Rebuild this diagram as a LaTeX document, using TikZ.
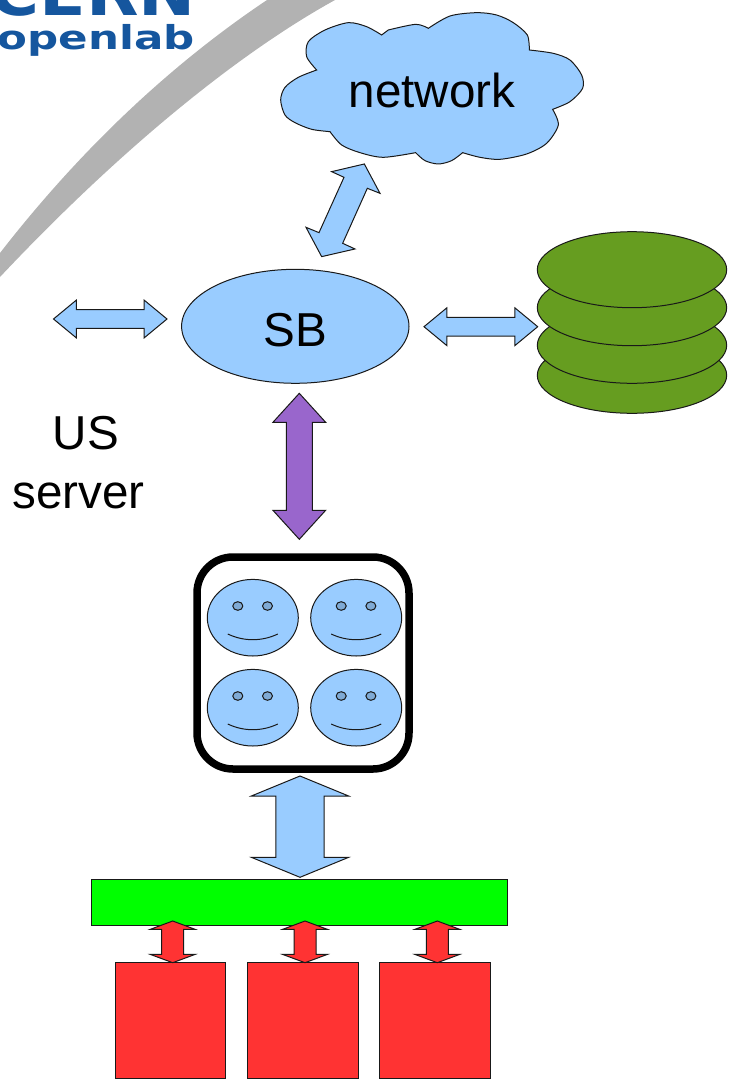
\documentclass[tikz,border=0pt]{standalone}
\usepackage{fontspec}
\setmainfont{Liberation Sans}
\newfontfamily\logofont{DejaVu Sans}[BoldFont={DejaVu Sans Bold}]
\usetikzlibrary{calc,shapes.geometric}
\definecolor{skyb}{HTML}{99CCFF}
\definecolor{redb}{HTML}{FF3333}
\definecolor{grnb}{HTML}{00FF00}
\definecolor{purb}{HTML}{9966CC}
\definecolor{dgrn}{HTML}{669D20}
\definecolor{swoosh}{HTML}{B2B2B2}
\definecolor{eyeb}{HTML}{7FAAD5}
\definecolor{logob}{HTML}{15569E}
\tikzset{
  line/.style={draw=black!90,line width=1pt,line join=miter},
  label/.style={font=\fontsize{47.6}{56}\selectfont,anchor=base,inner sep=0pt,text=black},
  ell/.style={shape=ellipse,line,inner sep=0pt},
  box/.style={shape=rectangle,line,inner sep=0pt},
  disk/.style={ell,fill=dgrn,minimum width=189.4pt,minimum height=76pt},
  faceshape/.style={ell,fill=skyb,minimum width=91pt,minimum height=76.6pt},
  eye/.style={ell,fill=eyeb,minimum width=10pt,minimum height=8.6pt},
  redbox/.style={box,fill=redb,minimum width=110.7pt,minimum height=115.6pt},
}
% block arrow between two named tips: tipA tipB headlen headhalf shafthalf fill
\newcommand{\blockarrow}[6]{%
  \coordinate (hA) at ($(#1)!#3pt!(#2)$);
  \coordinate (hB) at ($(#2)!#3pt!(#1)$);
  \draw[line,fill=#6] (#1)
    -- ($(hA)!#4pt!90:(#2)$) -- ($(hA)!#5pt!90:(#2)$)
    -- ($(hB)!#5pt!-90:(#1)$) -- ($(hB)!#4pt!-90:(#1)$)
    -- (#2)
    -- ($(hB)!#4pt!90:(#1)$) -- ($(hB)!#5pt!90:(#1)$)
    -- ($(hA)!#5pt!-90:(#2)$) -- ($(hA)!#4pt!-90:(#2)$)
    -- cycle;
}
\newcommand{\smileface}[3]{%
  \node[faceshape] (#1) at (#2,#3) {};
  \node[eye] (#1l) at ($(#1)+(-15,-11.7)$) {};
  \node[eye] (#1r) at ($(#1)+(14.7,-11.7)$) {};
  \coordinate (#1a) at ($(#1)+(-25,16.3)$);
  \coordinate (#1b) at ($(#1)+(25,16.3)$);
  \draw[line] (#1a) .. controls ($(#1a)+(16,7.6)$) and ($(#1b)+(-16,7.6)$) .. (#1b);
}
\begin{document}
\begin{tikzpicture}[x=1pt,y=-1pt]
\useasboundingbox (0,0) rectangle (731,1081);
\clip (0,0) rectangle (731,1081);
% swoosh
\fill[swoosh] (267,0) .. controls (170,65) and (80,150) .. (0,253)
  -- (0,277) .. controls (110,160) and (230,58) .. (335,0) -- cycle;
% logo
\node[anchor=base east,inner sep=0pt,text=logob,xscale=1.1] (cern) at (196,16)
  {\fontsize{62}{62}\selectfont\logofont\bfseries CERN};
\node[anchor=base east,inner sep=0pt,text=logob,xscale=1.32] (openlab) at (195,50)
  {\fontsize{33}{33}\selectfont\logofont\bfseries openlab};
% cloud
\begin{scope}[shift={(270,0)},x=0.3333pt,y=-0.3333pt]
\draw[line,fill=skyb]
  plot[smooth] coordinates {(140,210) (85,232) (45,262) (32,300) (45,345) (75,368) (125,388) (180,395)}
  -- plot[smooth] coordinates {(180,395) (215,435) (270,458) (340,472) (437,458)}
  -- plot[smooth] coordinates {(437,458) (465,482) (505,492) (545,482) (578,458)}
  -- plot[smooth] coordinates {(578,458) (630,472) (690,478) (770,462) (830,430) (865,375) (848,328)}
  -- plot[smooth] coordinates {(848,328) (900,305) (938,265) (935,225) (900,180) (850,160) (778,150)}
  -- plot[smooth] coordinates {(778,150) (772,105) (730,68) (680,45) (620,38) (540,48) (475,85)}
  -- plot[smooth] coordinates {(475,85) (437,73) (355,90)}
  -- (335,105)
  -- plot[smooth] coordinates {(335,105) (290,80) (235,68) (165,90) (115,125) (110,170) (140,210)}
  -- cycle;
\end{scope}
\node[label] (network) at (432,107.3) {network};
% SB
\node[ell,fill=skyb,minimum width=227.4pt,minimum height=114pt] (sb) at (295.3,326.3) {};
\node[label] (sbtext) at (295.5,346) {SB};
\node[label] (us) at (85.8,449.3) {US};
\node[label] (server) at (78.7,508.3) {server};
% network arrow
\begin{scope}[shift={(270,0)},x=0.3333pt,y=-0.3333pt]
\draw[line,fill=skyb] (283,492) -- (330,580) -- (292,565) -- (218,730) -- (255,747)
  -- (155,770) -- (108,682) -- (147,698) -- (222,532) -- (185,515) -- cycle;
\end{scope}
% disks
\node[disk] (d4) at (632,375.3) {};
\node[disk] (d3) at (632,345.3) {};
\node[disk] (d2) at (632,307.7) {};
\node[disk] (d1) at (632,269.7) {};
% side arrows
\coordinate (la) at (53.5,319); \coordinate (lb) at (167,319);
\blockarrow{la}{lb}{22.8}{18.85}{9.3}{skyb}
\coordinate (ra) at (424,326.7); \coordinate (rb) at (537.7,326.7);
\blockarrow{ra}{rb}{22.8}{18.85}{9.3}{skyb}
% purple arrow
\coordinate (pa) at (299.3,393.3); \coordinate (pb) at (299.3,539.3);
\blockarrow{pa}{pb}{29}{26.35}{13}{purb}
% rounded box
\draw[black,line width=7.5pt,rounded corners=36pt] (197,557) rectangle (409,769);
\smileface{fa}{252.8}{617.7}
\smileface{fb}{356.2}{617.7}
\smileface{fc}{252.8}{707.7}
\smileface{fd}{356.2}{707.7}
% big arrow
\coordinate (ba) at (300,776); \coordinate (bb) at (300,877.3);
\blockarrow{ba}{bb}{20}{48.65}{24.15}{skyb}
% bus
\node[box,fill=grnb,minimum width=416pt,minimum height=46pt] (bus) at (299.3,902.3) {};
% red boxes
\node[redbox] (r1) at (170.5,1020.5) {};
\node[redbox] (r2) at (302.65,1020.5) {};
\node[redbox] (r3) at (434.8,1020.5) {};
% red arrows
\coordinate (a1) at (172.7,921); \coordinate (b1) at (172.7,962.7);
\coordinate (a2) at (305,921); \coordinate (b2) at (305,962.7);
\coordinate (a3) at (437.3,921); \coordinate (b3) at (437.3,962.7);
\blockarrow{a1}{b1}{8.3}{22.35}{11}{redb}
\blockarrow{a2}{b2}{8.3}{22.35}{11}{redb}
\blockarrow{a3}{b3}{8.3}{22.35}{11}{redb}
\end{tikzpicture}
\end{document}
